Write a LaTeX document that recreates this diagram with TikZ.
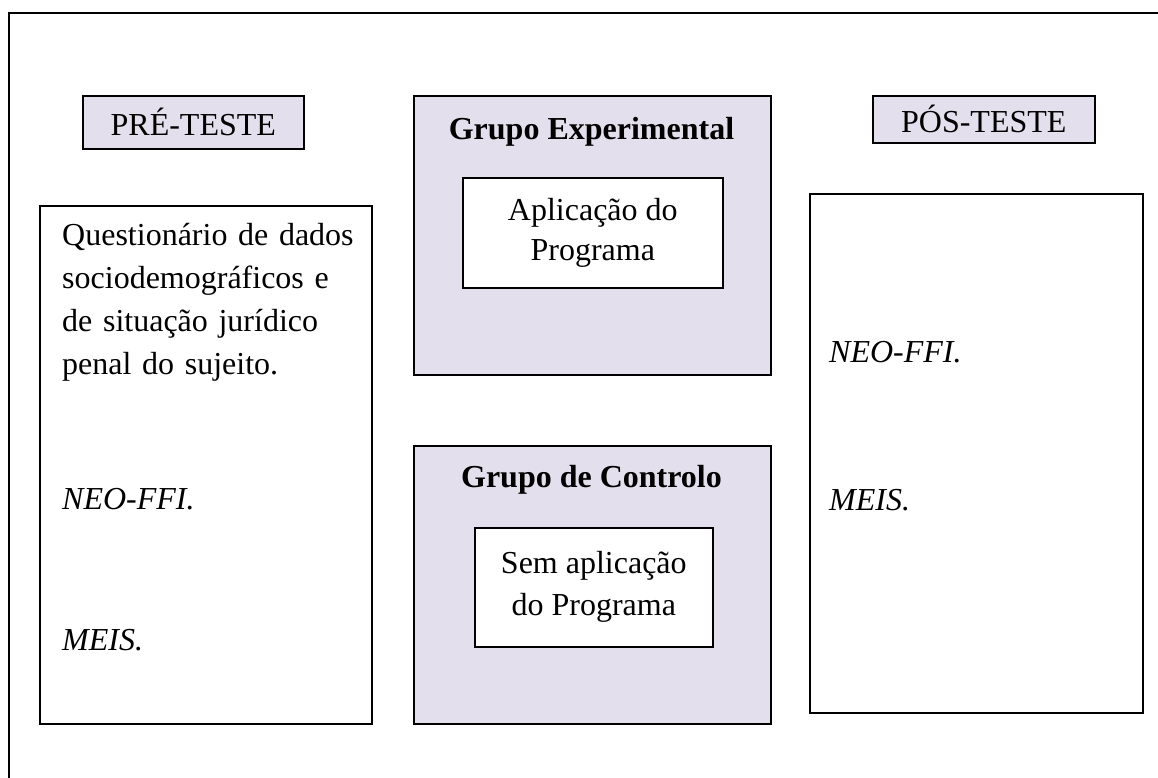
\documentclass[tikz,border=0pt]{standalone}
\usepackage{fontspec}
\setmainfont{Liberation Serif}
\definecolor{lav}{RGB}{228,223,236}
\begin{document}
\begin{tikzpicture}[x=1pt,y=-1pt,
  box/.style={draw=black,line width=1.6pt,rectangle,inner sep=0pt,anchor=north west},
  shade/.style={box,fill=lav},
  plain/.style={box,fill=white},
  txt/.style={inner sep=0pt,font=\fontsize{32}{43}\selectfont},
  bold/.style={txt,font=\fontsize{32}{43}\selectfont\bfseries}]
\useasboundingbox (0,0) rectangle (1158,778);
% outer frame (top and left only)
\coordinate (fbl) at (9,778);
\coordinate (ftl) at (9,13);
\coordinate (ftr) at (1158,13);
\draw[line width=1.6pt] (fbl) -- (ftl) -- (ftr);
% boxes
\node[shade,minimum width=221pt,minimum height=53pt] (pre) at (82,95) {};
\node[txt] at (pre.center) {PRÉ-TESTE};
\node[shade,minimum width=222pt,minimum height=47pt] (pos) at (872,95) {};
\node[txt] at (pos.center) {PÓS-TESTE};
\node[plain,minimum width=332pt,minimum height=518pt] (left) at (39,205) {};
\node[plain,minimum width=333pt,minimum height=519pt] (right) at (809,193) {};
\node[shade,minimum width=357pt,minimum height=279pt] (ge) at (413,95) {};
\node[plain,minimum width=260pt,minimum height=110pt] (gei) at (462,177) {};
\node[shade,minimum width=357pt,minimum height=278pt] (gc) at (413,445) {};
\node[plain,minimum width=238pt,minimum height=119pt] (gci) at (474,527) {};
% texts
\node[bold,anchor=base] (get) at (591.5,140) {Grupo Experimental};
\node[txt,align=center,font=\fontsize{32}{40}\selectfont] (geit) at (gei.center) {Aplicação do\\Programa};
\node[bold,anchor=base] (gct) at (591.5,487) {Grupo de Controlo};
\node[txt,align=center,font=\fontsize{32}{42}\selectfont] (gcit) at (gci.center) {Sem aplicação\\do Programa};
\node[txt,anchor=base west,text width=305pt,align=left] (lq) at (62,245) {Questionário de dados\\sociodemográficos e\\de situação jurídico\\penal do sujeito.};
\node[txt,anchor=base west] (ln) at (62,509) {\itshape NEO-FFI.};
\node[txt,anchor=base west] (lm) at (62,650) {\itshape MEIS.};
\node[txt,anchor=base west] (rn) at (829,362) {\itshape NEO-FFI.};
\node[txt,anchor=base west] (rm) at (829,510) {\itshape MEIS.};
\end{tikzpicture}
\end{document}
